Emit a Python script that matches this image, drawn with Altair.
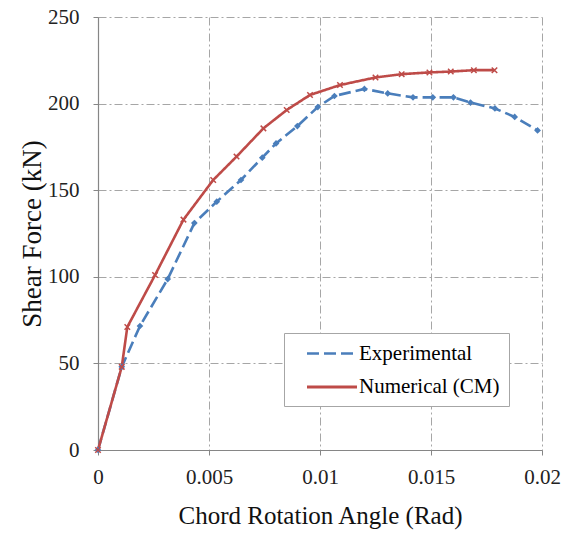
import altair as alt
import pandas as pd

# Experimental series
exp_x = [0, 0.00107, 0.00189, 0.00314, 0.00434, 0.00535, 0.00644, 0.0074, 0.00802,
         0.00898, 0.0099, 0.01065, 0.0120, 0.01305, 0.01419, 0.01508, 0.01601,
         0.01678, 0.01788, 0.01877, 0.0198]
exp_y = [0, 48, 71.6, 98.7, 131, 143.4, 155.9, 168.8, 177, 187, 198, 204.4, 208.5,
         205.9, 203.6, 203.6, 203.6, 200.6, 197.2, 192.3, 184.5]

# Numerical (CM) series
num_x = [0, 0.00107, 0.00132, 0.00257, 0.00385, 0.00519, 0.00624, 0.00745, 0.0085,
         0.00955, 0.0109, 0.0125, 0.01368, 0.01493, 0.01589, 0.01693, 0.01786]
num_y = [0, 48, 71, 101, 133, 155.9, 169.4, 185.7, 196.3, 205, 210.7, 215.1, 217,
         218, 218.5, 219.3, 219.3]

series_names = ["Experimental", "Numerical (CM)"]
series_colors = ["#4a7ebb", "#be4b48"]

x_ticks = [0, 0.005, 0.01, 0.015, 0.02]
y_ticks = [0, 50, 100, 150, 200, 250]

rows = []
for i, (xs, ys) in enumerate([(exp_x, exp_y), (num_x, num_y)]):
    for k, (a, b) in enumerate(zip(xs, ys)):
        rows.append({"x": a, "y": b, "series": series_names[i], "order": k})
df = pd.DataFrame(rows)

FONT = "Liberation Serif"

x_enc = alt.X("x:Q", scale=alt.Scale(domain=[0, 0.02], nice=False),
              axis=alt.Axis(values=x_ticks, format="~g", labelFlush=False,
                            title="Chord Rotation Angle (Rad)"))
y_enc = alt.Y("y:Q", scale=alt.Scale(domain=[0, 250], nice=False),
              axis=alt.Axis(values=y_ticks, labelFlush=False, title="Shear Force (kN)",
                            titleFontSize=27))

lines = alt.Chart(df).mark_line(strokeWidth=2.6).encode(
    x=x_enc, y=y_enc, order="order:Q",
    color=alt.Color("series:N",
                    scale=alt.Scale(domain=series_names, range=series_colors),
                    legend=alt.Legend(
                        title=None, orient="none", legendX=186, legendY=316,
                        symbolType="M-2.5,0L2.5,0", symbolSize=400,
                        symbolStrokeWidth=3, symbolOffset=27, labelOffset=15,
                        padding=9, rowPadding=11,
                        labelFont=FONT, labelFontSize=21, labelColor="#000000",
                        strokeColor="#a6a6a6", fillColor="white")),
    strokeDash=alt.StrokeDash("series:N",
                              scale=alt.Scale(domain=series_names,
                                              range=[[12, 5], [1, 0]]),
                              legend=alt.Legend(title=None, orient="none",
                                                legendX=186, legendY=316)),
    strokeWidth=alt.StrokeWidth("series:N",
                                scale=alt.Scale(domain=series_names, range=[2.5, 3.2]),
                                legend=None),
)

exp_pts = alt.Chart(df).transform_filter(
    alt.datum.series == "Experimental"
).mark_point(shape="diamond", filled=True, size=45, color="#4a7ebb", opacity=1).encode(
    x=x_enc, y=y_enc)

num_pts = alt.Chart(df).transform_filter(
    alt.datum.series == "Numerical (CM)"
).mark_point(shape="M-1,-1L1,1M-1,1L1,-1", size=30, strokeWidth=1.5,
             color="#be4b48", opacity=1).encode(x=x_enc, y=y_enc)

chart = alt.layer(lines, exp_pts, num_pts).properties(
    width=444, height=433,
    autosize=alt.AutoSizeParams(type="none"),
    padding={"left": 98, "top": 17, "right": 20, "bottom": 88},
    background="white",
).configure_view(stroke=None).configure_axis(
    grid=True, gridColor="#a6a6a6", gridDash=[8, 3, 2, 3], gridWidth=1,
    domainColor="#868686", domainWidth=1.2, tickColor="#868686", tickSize=5,
    labelFont=FONT, labelFontSize=21, labelColor="#222222",
    titleFont=FONT, titleFontSize=25, titleFontWeight="normal", titleColor="#111111",
).configure_axisX(labelPadding=11, titlePadding=16).configure_axisY(
    labelPadding=14, titlePadding=1)

chart.save("out.html", embed_options={"renderer": "svg", "actions": False})
